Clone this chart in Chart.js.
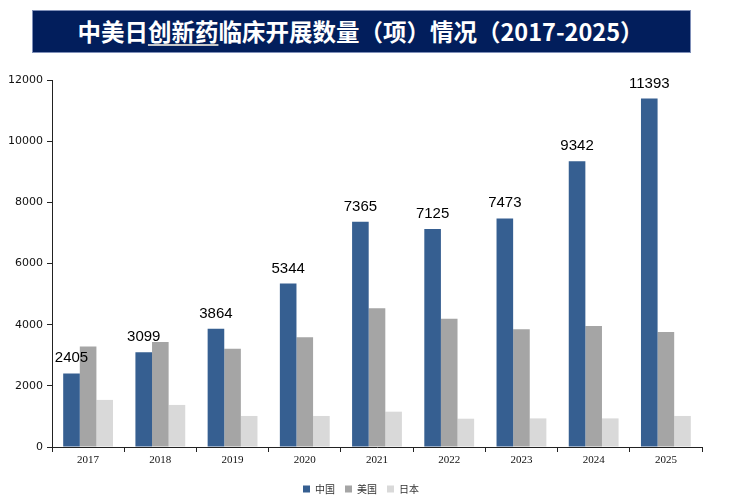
<!DOCTYPE html>
<html><head><meta charset="utf-8">
<script src="https://cdn.jsdelivr.net/npm/chart.js@4.4.0/dist/chart.umd.min.js"></script>
<style>
html,body{margin:0;padding:0;background:#fff;}
#wrap{position:relative;width:734px;height:500px;}
#title{position:absolute;left:32px;top:10px;width:655px;height:41px;background:#021e5c;color:#fff;border:1px solid #7f8fb8;
font-family:"Noto Sans CJK SC",sans-serif;font-weight:bold;font-size:23.5px;line-height:41px;text-align:center;padding-right:2px;}
#title u{text-decoration-color:#c8c8c8;text-decoration-thickness:2px;text-underline-offset:3px;}
canvas{position:absolute;left:0;top:0;}
</style></head><body>
<div id="wrap">
<canvas id="c" width="734" height="500"></canvas>
<div id="title">中美日<u>创新药</u>临床开展数量（项）情况（2017-2025）</div>
</div>
<script>
const years = ['2017','2018','2019','2020','2021','2022','2023','2024','2025'];
const china = [2405,3099,3864,5344,7365,7125,7473,9342,11393];
const usa   = [3290,3430,3215,3585,4535,4195,3850,3955,3760];
const japan = [1540,1375,1015,1015,1155,925,935,935,1015];
const seriesNames = ['中国','美国','日本'];
const yTicks = [0,2000,4000,6000,8000,10000,12000];

const labelPlugin = {
  id:'chinaLabels',
  afterLayout(chart){
    if(chart.legend){
      chart.legend.top += 4; chart.legend.bottom += 4;
      chart.legend.left += 10; chart.legend.right += 10;
    }
  },
  afterDatasetsDraw(chart){
    const ctx = chart.ctx;
    const meta = chart.getDatasetMeta(0);
    ctx.save();
    ctx.font = '15px "Liberation Sans", Arial, sans-serif';
    ctx.fillStyle = '#000';
    ctx.textAlign = 'center';
    ctx.textBaseline = 'alphabetic';
    meta.data.forEach((bar,i)=>{
      ctx.fillText(String(china[i]), bar.x, bar.y - 11);
    });
    ctx.restore();
  }
};

new Chart(document.getElementById('c'),{
  type:'bar',
  data:{labels:years,datasets:[
    {label:seriesNames[0],data:china,backgroundColor:'#365f91'},
    {label:seriesNames[1],data:usa,backgroundColor:'#a5a5a5'},
    {label:seriesNames[2],data:japan,backgroundColor:'#d9d9d9'}
  ]},
  options:{
    responsive:false,animation:false,
    layout:{padding:{top:80,right:32,left:0,bottom:0}},
    datasets:{bar:{barPercentage:1,categoryPercentage:0.69}},
    plugins:{
      legend:{position:'bottom',labels:{boxWidth:7,boxHeight:7,padding:10,color:'#333',
        font:{size:10,family:'"Noto Sans CJK SC", sans-serif'}}},
      tooltip:{enabled:false}
    },
    scales:{
      x:{grid:{offset:true,drawOnChartArea:false,drawTicks:true,tickLength:5,color:'#222'},
         border:{color:'#222'},
         ticks:{color:'#111',padding:2,font:{size:11,family:'"Liberation Serif", serif'}},
         afterFit(s){s.height=23;}},
      y:{min:0,max:12000,grid:{drawOnChartArea:false,drawTicks:true,tickLength:5,color:'#222'},
         border:{color:'#222'},
         afterBuildTicks(s){s.ticks = yTicks.map(v=>({value:v}));},
         ticks:{color:'#111',padding:4,callback:(v)=>String(v),font:{size:11,family:'"DejaVu Sans", sans-serif'}},
         afterFit(s){s.width=52;}}
    }
  },
  plugins:[labelPlugin]
});
</script>
</body></html>
